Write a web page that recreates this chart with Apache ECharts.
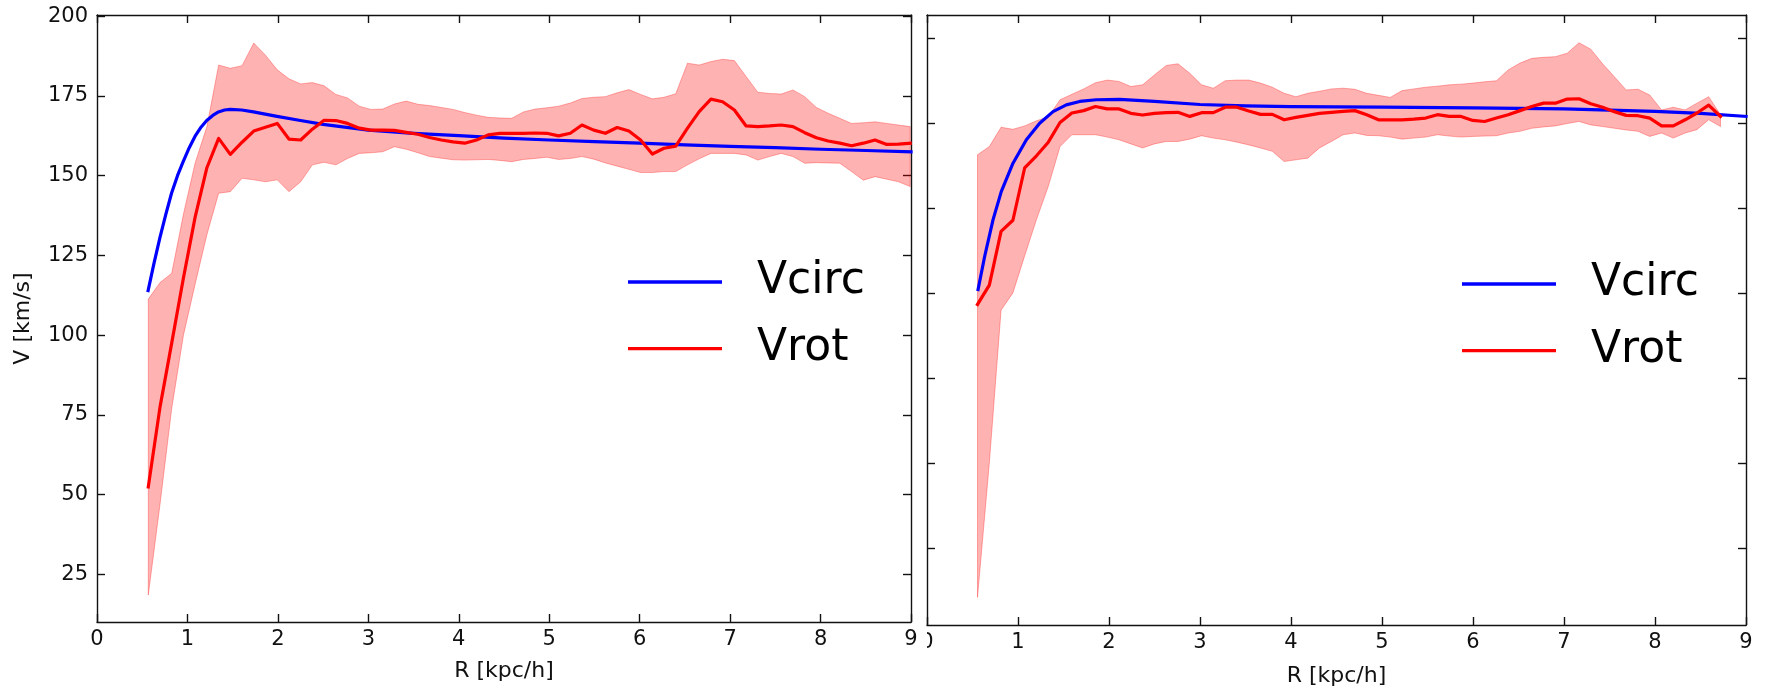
<!DOCTYPE html>
<html>
<head>
<meta charset="utf-8">
<title>Rotation curves</title>
<script src="https://cdn.jsdelivr.net/npm/echarts@6/dist/echarts.min.js"></script>
<style>
  html, body { margin: 0; padding: 0; background: #fff; }
  #chart { width: 1765px; height: 692px; }
</style>
</head>
<body>
<div id="chart"></div>
<script>
// ---- Left galaxy: radial bins [kpc/h] ----
const R_LEFT = [0.567, 0.697, 0.826, 0.956, 1.085, 1.215, 1.345, 1.474, 1.604, 1.733,
  1.863, 1.993, 2.122, 2.252, 2.381, 2.511, 2.641, 2.770, 2.900, 3.029,
  3.159, 3.289, 3.418, 3.548, 3.677, 3.807, 3.937, 4.066, 4.196, 4.325,
  4.455, 4.585, 4.714, 4.844, 4.973, 5.103, 5.233, 5.362, 5.492, 5.621,
  5.751, 5.881, 6.010, 6.140, 6.269, 6.399, 6.529, 6.658, 6.788, 6.917,
  7.047, 7.177, 7.306, 7.436, 7.565, 7.695, 7.825, 7.954, 8.084, 8.213,
  8.343, 8.473, 8.602, 8.732, 8.861, 8.991];
// measured rotation velocity and its spread [km/s]
const VROT_LEFT = [52.4, 77.5, 97.5, 118, 137, 152.5, 161.7, 156.7, 160.5, 164,
  165.2, 166.4, 161.5, 161.2, 164.6, 167.4, 167.3, 166.4, 164.9, 164.3,
  164.3, 164.2, 163.6, 163, 162, 161.2, 160.6, 160.2, 161.2, 162.8,
  163.3, 163.3, 163.3, 163.4, 163.3, 162.5, 163.3, 165.9, 164.3, 163.3,
  165.1, 164, 161.2, 156.8, 158.6, 159.3, 164.9, 170.1, 174, 173.2,
  170.6, 165.6, 165.4, 165.6, 165.9, 165.4, 163.5, 161.9, 160.9, 160.2,
  159.4, 160.2, 161.2, 159.8, 159.9, 160.2];
const VROT_HI_LEFT = [111.3, 116.5, 119.4, 138, 154, 165.4, 184.7, 183.7, 184.5, 191.6,
  187.8, 183.2, 180.4, 178.8, 179.2, 178.2, 175.5, 174.4, 171.8, 170.8,
  170.9, 172.5, 173.4, 172.4, 172, 171.4, 170.8, 169.8, 169, 168.3,
  168.1, 168, 170, 170.9, 171.3, 171.8, 172.8, 174.2, 174.6, 174.8,
  176, 177, 175.5, 174.1, 174.6, 175.7, 185.3, 184.7, 185.8, 186.5,
  186.1, 181.1, 176.2, 175.8, 175.6, 176.9, 174.8, 171.4, 169.6, 168,
  166.4, 166.6, 166.9, 166.4, 165.9, 165.4];
const VROT_LO_LEFT = [18.5, 47, 77, 100, 116, 131.5, 144.5, 145, 149.2, 148.7,
  148.1, 148.7, 145, 148.1, 153.4, 154.2, 153.4, 155.4, 157, 157.2,
  157.5, 159.1, 158.3, 157.2, 156, 155.5, 155, 154.9, 155, 155.1,
  154.8, 154.4, 155.1, 155.4, 155.8, 155.1, 155.4, 156, 155.2, 154,
  153, 152, 151, 151, 151.3, 151.3, 153.4, 155.3, 157, 157,
  157, 156.5, 154.9, 156, 157, 156, 153.9, 154.1, 154, 153.9,
  151.3, 148.6, 149.7, 148.9, 148.1, 146.6];
// circular velocity from the potential
const R_VCIRC_LEFT = [0.565, 0.63, 0.695, 0.76, 0.824, 0.89, 0.954, 1.02, 1.083, 1.15,
  1.213, 1.28, 1.343, 1.41, 1.472, 1.6, 1.73, 1.86, 1.99, 2.25,
  2.5, 3.0, 3.5, 4.0, 4.5, 5.0, 5.5, 6.0, 6.5, 7.0, 7.5, 8.0, 8.5, 9.0];
const VCIRC_LEFT = [114, 122.5, 130.5, 137.8, 144.5, 150, 154.5, 158.8, 162.3, 165.2,
  167.3, 168.9, 170, 170.6, 170.8, 170.6, 170, 169.3, 168.6, 167.3,
  166.1, 164.3, 163.3, 162.6, 161.8, 161.2, 160.7, 160.2, 159.7, 159.2, 158.8, 158.3, 157.9, 157.5];

// ---- Right galaxy ----
const R_RIGHT = [0.555, 0.685, 0.814, 0.944, 1.073, 1.203, 1.333, 1.462, 1.592, 1.721,
  1.851, 1.981, 2.110, 2.240, 2.369, 2.499, 2.629, 2.758, 2.888, 3.017,
  3.147, 3.277, 3.406, 3.536, 3.665, 3.795, 3.925, 4.054, 4.184, 4.313,
  4.443, 4.573, 4.702, 4.832, 4.961, 5.091, 5.221, 5.350, 5.480, 5.609,
  5.739, 5.869, 5.998, 6.128, 6.257, 6.387, 6.517, 6.646, 6.776, 6.905,
  7.035, 7.165, 7.294, 7.424, 7.553, 7.683, 7.813, 7.942, 8.072, 8.201,
  8.331, 8.461, 8.590, 8.720];
const VROT_RIGHT = [96.7, 102.4, 118.2, 121.5, 136.9, 140.5, 144.5, 150.3, 153.1, 153.8,
  155, 154.3, 154.3, 153, 152.5, 153, 153.2, 153.3, 152.1, 153.2,
  153.2, 154.8, 154.8, 153.7, 152.7, 152.7, 151.1, 151.8, 152.4, 153,
  153.3, 153.6, 153.8, 152.6, 151.1, 151.1, 151.1, 151.3, 151.6, 152.6,
  152.1, 152.1, 150.9, 150.6, 151.6, 152.6, 153.8, 155, 156, 156,
  157.2, 157.3, 155.8, 154.8, 153.5, 152.4, 152.3, 151.6, 149.3, 149.3,
  151.1, 153.1, 155.4, 152.1];
const VROT_HI_RIGHT = [140.8, 143.2, 148.9, 148.3, 149.3, 150.8, 152, 157, 158.6, 160.2,
  162, 162.8, 162.4, 160.9, 161.4, 164.3, 167.1, 167.6, 164.8, 161.4,
  160.4, 162.6, 162.8, 162.8, 161.9, 160.7, 158.9, 157.9, 158.9, 159.5,
  160.2, 160.4, 160.1, 158.9, 158.3, 157.7, 159.7, 160.2, 160.7, 161,
  161.4, 161.6, 161.9, 162.3, 162.6, 165.8, 167.8, 169.2, 169.5, 169.7,
  170.7, 173.8, 171.9, 167.6, 163.8, 159.9, 160.1, 158.4, 154, 154.8,
  154, 156, 157.9, 152.6];
const VROT_LO_RIGHT = [10.4, 50, 95, 100.1, 111, 121.7, 131.5, 143.2, 146.7, 146.7,
  146.7, 146, 145.2, 144, 142.8, 144, 144.7, 144.7, 145.4, 146.4,
  145.7, 145.2, 144.5, 143.7, 142.8, 141.8, 138.8, 139.3, 139.8, 142.8,
  144.7, 146.7, 147.2, 146.5, 146.4, 146, 145.4, 145.7, 146, 146.7,
  146.3, 146, 146.2, 146.3, 146.4, 147.2, 147.7, 148.6, 149, 149.3,
  150, 150.6, 149.6, 149.1, 148.6, 148.1, 147.7, 146.2, 147.2, 145.7,
  147.2, 148.2, 151.1, 149.1];
const R_VCIRC_RIGHT = [0.561, 0.634, 0.726, 0.817, 0.945, 1.092, 1.238, 1.385, 1.531, 1.678,
  1.861, 2.117, 2.5, 3.0, 3.5, 4.0, 5.0, 6.0, 7.0, 8.0, 8.5, 9.0];
const VCIRC_RIGHT = [101.1, 110.9, 121.7, 130, 138.3, 145.2, 150.1, 153.5, 155.5, 156.5,
  157, 157.1, 156.5, 155.6, 155.2, 155, 154.8, 154.6, 154.3, 153.6, 153.0, 152.1];

// ---- Axes ----
const X_TICKS = [0, 1, 2, 3, 4, 5, 6, 7, 8, 9];
const Y_TICKS_LEFT = [25, 50, 75, 100, 125, 150, 175, 200];
const Y_TICKS_RIGHT = [25, 50, 75, 100, 125, 150, 175];
const SERIES_NAMES = ['Vcirc', 'Vrot'];
const X_NAME = 'R [kpc/h]';
const Y_NAME = 'V [km/s]';

const FONT = 'DejaVu Sans';
const INK = '#111';
const BAND_FILL = 'rgba(255,0,0,0.3)';

function zip(xs, ys) { return xs.map((x, i) => [x, ys[i]]); }

// Shaded spread: one closed polygon (upper edge out, lower edge back)
function bandRenderer(R, LO, HI) {
  return function (params, api) {
    if (params.dataIndex !== 0) return null;
    const pts = [];
    for (let i = 0; i < R.length; i++) pts.push(api.coord([R[i], HI[i]]));
    for (let i = R.length - 1; i >= 0; i--) pts.push(api.coord([R[i], LO[i]]));
    return {
      type: 'polygon',
      shape: { points: pts },
      style: { fill: BAND_FILL, stroke: BAND_FILL, lineWidth: 1 }
    };
  };
}

const axisLine = { show: true, onZero: false, lineStyle: { color: INK, width: 1.4 } };
const tickStyle = { inside: true, length: 8, lineStyle: { color: INK, width: 1.4 } };
const labelStyle = { color: INK, fontSize: 21, fontFamily: FONT };
const nameStyle = { color: INK, fontSize: 22, fontFamily: FONT };

function xAxisPair(grid, nameGap) {
  return [
    { type: 'value', gridIndex: grid, position: 'bottom', min: 0, max: 9, interval: 1,
      name: X_NAME, nameLocation: 'middle', nameGap: nameGap, nameTextStyle: nameStyle,
      axisLine: axisLine, splitLine: { show: false },
      axisTick: Object.assign({ customValues: X_TICKS }, tickStyle),
      axisLabel: Object.assign({ customValues: X_TICKS, margin: 7, showMinLabel: true, showMaxLabel: true }, labelStyle) },
    { type: 'value', gridIndex: grid, position: 'top', min: 0, max: 9, interval: 1,
      axisLine: axisLine, splitLine: { show: false },
      axisTick: Object.assign({ customValues: X_TICKS }, tickStyle),
      axisLabel: { show: false } }
  ];
}

function yAxisPair(grid, min, max, ticks, showLabels) {
  const left = { type: 'value', gridIndex: grid, position: 'left', min: min, max: max,
    axisLine: axisLine, splitLine: { show: false },
    axisTick: Object.assign({ customValues: ticks }, tickStyle),
    axisLabel: showLabels
      ? Object.assign({ customValues: ticks, margin: 9 }, labelStyle)
      : { show: false } };
  if (showLabels) {
    left.name = Y_NAME;
    left.nameLocation = 'middle';
    left.nameGap = 63;
    left.nameTextStyle = nameStyle;
  }
  const right = { type: 'value', gridIndex: grid, position: 'right', min: min, max: max,
    axisLine: axisLine, splitLine: { show: false },
    axisTick: Object.assign({ customValues: ticks }, tickStyle),
    axisLabel: { show: false } };
  return [left, right];
}

function lineSeries(name, color, xi, yi, data) {
  return {
    type: 'line', name: name, xAxisIndex: xi, yAxisIndex: yi, data: data,
    symbol: 'none', showSymbol: false, smooth: false, clip: true, z: 3,
    lineStyle: { color: color, width: 3.2, cap: 'square', join: 'round' },
    itemStyle: { color: color },
    emphasis: { disabled: true }
  };
}

function bandSeries(xi, yi, R, LO, HI) {
  return {
    type: 'custom', xAxisIndex: xi, yAxisIndex: yi, z: 1, silent: true,
    renderItem: bandRenderer(R, LO, HI),
    encode: { x: 0, y: [1, 2] },
    data: R.map((r, i) => [r, LO[i], HI[i]])
  };
}

// legend keys are plain line segments; the name sits at the bottom of a
// slightly taller line box, so it reads a little below its key
function legendAt(left, top) {
  return {
    orient: 'vertical', left: left, top: top, padding: 0,
    icon: 'rect', itemWidth: 94, itemHeight: 3.3, itemGap: 12.6,
    selectedMode: false,
    data: SERIES_NAMES,
    formatter: '{t|{name}}',
    textStyle: {
      color: '#000',
      rich: {
        t: { fontSize: 44, fontFamily: FONT, color: '#000', lineHeight: 54,
             height: 54, verticalAlign: 'bottom', padding: [0, 0, 0, 30] }
      }
    }
  };
}

const chart = echarts.init(document.getElementById('chart'), null, { renderer: 'canvas' });
chart.setOption({
  animation: false,
  backgroundColor: '#fff',
  grid: [
    { left: 97, top: 15, width: 814, height: 607, containLabel: false },
    { left: 927, top: 15, width: 819, height: 611, containLabel: false }
  ],
  xAxis: xAxisPair(0, 38).concat(xAxisPair(1, 40)),
  yAxis: yAxisPair(0, 10.04, 200.4, Y_TICKS_LEFT, true)
    .concat(yAxisPair(1, 2.26, 181.97, Y_TICKS_RIGHT, false)),
  legend: [legendAt(628, 255), legendAt(1462, 257)],
  series: [
    bandSeries(0, 0, R_LEFT, VROT_LO_LEFT, VROT_HI_LEFT),
    lineSeries(SERIES_NAMES[0], '#0000ff', 0, 0, zip(R_VCIRC_LEFT, VCIRC_LEFT)),
    lineSeries(SERIES_NAMES[1], '#ff0000', 0, 0, zip(R_LEFT, VROT_LEFT)),
    bandSeries(2, 2, R_RIGHT, VROT_LO_RIGHT, VROT_HI_RIGHT),
    lineSeries(SERIES_NAMES[0], '#0000ff', 2, 2, zip(R_VCIRC_RIGHT, VCIRC_RIGHT)),
    lineSeries(SERIES_NAMES[1], '#ff0000', 2, 2, zip(R_RIGHT, VROT_RIGHT))
  ],
  // the left panel's margin overlaps the first tick label of the right panel
  graphic: [
    { type: 'rect', left: 918, top: 630, z: 100, silent: true,
      shape: { width: 9, height: 22 }, style: { fill: '#fff' } }
  ]
});
</script>
</body>
</html>
